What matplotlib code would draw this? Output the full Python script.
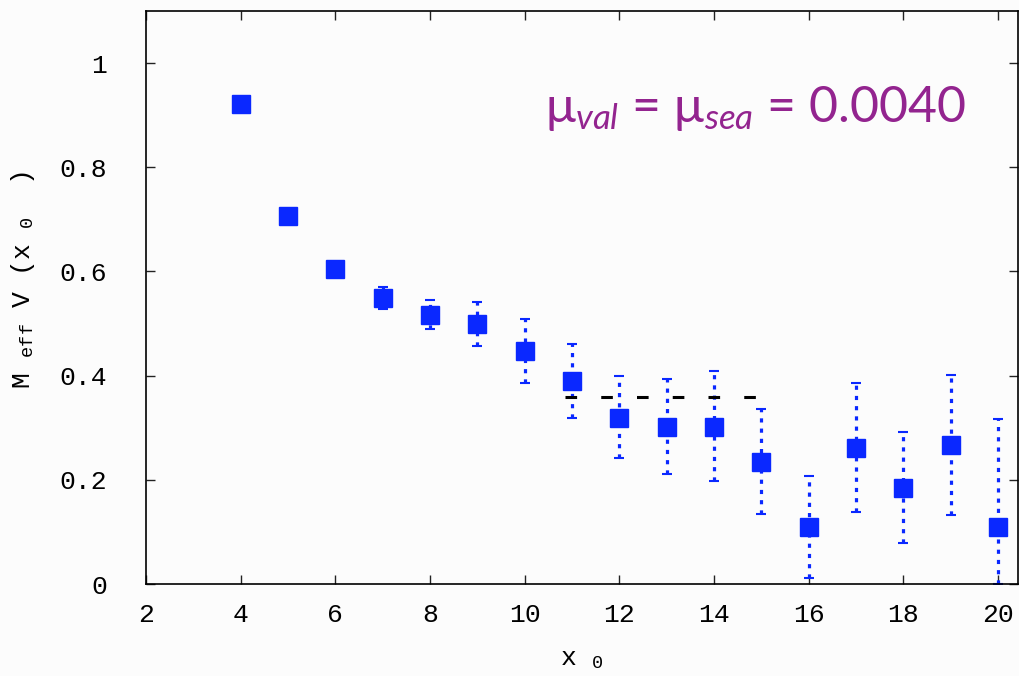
import matplotlib
matplotlib.use("Agg")
import matplotlib.pyplot as plt
import numpy as np

# ---- data ----
x0 = [4, 5, 6, 7, 8, 9, 10, 11, 12, 13, 14, 15, 16, 17, 18, 19, 20]
meff = [0.922, 0.707, 0.605, 0.549, 0.517, 0.499, 0.448, 0.389, 0.319,
        0.301, 0.302, 0.235, 0.109, 0.261, 0.184, 0.266, 0.109]
err_hi = [0.005, 0.006, 0.008, 0.571, 0.545, 0.542, 0.509, 0.461, 0.399,
          0.393, 0.409, 0.335, 0.207, 0.385, 0.292, 0.402, 0.317]
err_lo = [0.005, 0.006, 0.008, 0.528, 0.490, 0.457, 0.386, 0.319, 0.242,
          0.211, 0.197, 0.134, 0.011, 0.139, 0.079, 0.132, 0.000]
fit_range = [10.85, 14.9]
fit_value = 0.359

x_ticks = [2, 4, 6, 8, 10, 12, 14, 16, 18, 20]
y_ticks = [0, 0.2, 0.4, 0.6, 0.8, 1]
y_ticklabels = ["0", "0.2", "0.4", "0.6", "0.8", "1"]
annotation = r"μ$_{\mathit{val}}$ = μ$_{\mathit{sea}}$ = 0.0040"
x_label = r"x $_{\mathtt{0}}$"
y_label = r"M $_{\mathtt{eff}}$ V (x $_{\mathtt{0}}$  )"

plt.rcParams["mathtext.fontset"] = "custom"
plt.rcParams["mathtext.rm"] = "Lato"
plt.rcParams["mathtext.it"] = "Lato:italic"
plt.rcParams["mathtext.tt"] = "Liberation Mono"

fig = plt.figure(figsize=(10.2, 6.76), dpi=100)
fig.patch.set_facecolor("#fcfcfc")
ax = fig.add_axes([146/1020, 92/676, (1018-146)/1020, (584-11)/676])
ax.set_facecolor("#fcfcfc")

blue = "#0a28ff"
y = np.array(meff)
lo = y - np.array(err_lo)
hi = np.array(err_hi) - y
lo[:3] = 0.0
hi[:3] = 0.0
ebar = ax.errorbar(x0, meff, yerr=[lo, hi], fmt="none", ecolor=blue,
                   elinewidth=2.3, capsize=3.5, capthick=1.5, zorder=2)
for lc in ebar[2]:
    lc.set_linestyle((0, (1.3, 1.9)))

ax.plot(x0, meff, linestyle="none", marker="s", markersize=13.5,
        color=blue, markeredgecolor=blue, zorder=3)

ax.plot(fit_range, [fit_value, fit_value], color="black", linewidth=2.2,
        dashes=(3.8, 7.9), zorder=4)

ax.set_xlim(2, 20.42)
ax.set_ylim(0, 1.1)
ax.set_xticks(x_ticks)
ax.set_yticks(y_ticks)
ax.set_yticklabels(y_ticklabels)

for sp in ax.spines.values():
    sp.set_linewidth(1.2)
    sp.set_color("black")

ax.tick_params(direction="in", length=6.5, width=1.0, top=True, right=True,
               labelsize=19, colors="#222222")
ax.tick_params(axis="y", pad=28)
ax.tick_params(axis="x", pad=14)
for lab in ax.get_xticklabels() + ax.get_yticklabels():
    lab.set_fontfamily("Liberation Mono")
    lab.set_color("black")

ax.set_xlabel(x_label, fontsize=19, fontfamily="Liberation Mono", labelpad=14)
ax.set_ylabel(y_label, fontsize=19, fontfamily="Liberation Mono", labelpad=16)
ax.yaxis.label.set_y(0.53)

fig.text(545/1020, 1 - 122/676, annotation, fontsize=36, fontfamily="Lato",
         color="#93248f", ha="left", va="baseline")

fig.savefig("out.png", dpi=100, facecolor=fig.get_facecolor())
